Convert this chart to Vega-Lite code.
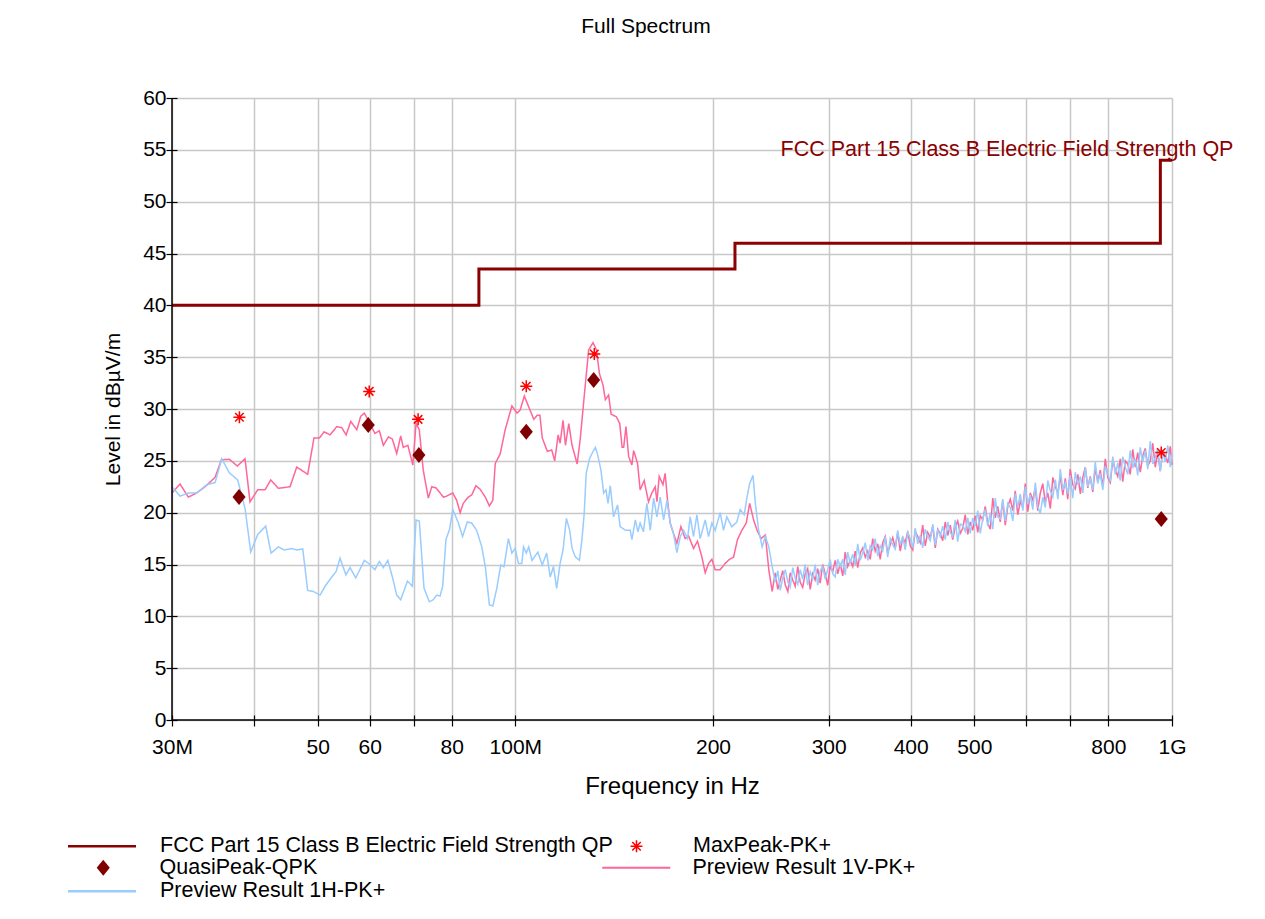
{
"$schema": "https://vega.github.io/schema/vega-lite/v6.json",
"width": 1000,
"height": 622,
"autosize": {"type": "none"},
"padding": {"left": 172, "top": 98, "right": 93, "bottom": 199},
"background": "white",
"title": {"text": "Full Spectrum", "fontSize": 21, "fontWeight": "normal", "anchor": "middle", "offset": 33, "dx": -26, "baseline": "alphabetic", "color": "black", "font": "Liberation Sans"},
"config": {
  "font": "Liberation Sans",
  "view": {"stroke": null},
  "axis": {"labelFontSize": 21, "labelFont": "Liberation Sans", "labelColor": "black", "tickColor": "black", "tickWidth": 1.2, "gridColor": "#c8c8c8", "gridWidth": 1.5, "titleColor": "black", "titleFontWeight": "normal", "titleFont": "Liberation Sans", "domain": false, "labelOverlap": false, "labelFlush": false},
  "legend": {"labelFontSize": 21.5, "labelFont": "Liberation Sans", "labelColor": "black", "padding": 0, "symbolSize": 289, "labelLimit": 1000}
},
"datasets": {
  "lim": [{"f":30,"v":40},{"f":88,"v":43.5},{"f":216,"v":46},{"f":960,"v":54},{"f":1000,"v":54}],
  "qp": [{"f":37.95,"v":21.5},{"f":59.7,"v":28.45},{"f":71.3,"v":25.56},{"f":103.9,"v":27.8},{"f":131.6,"v":32.8},{"f":963,"v":19.4}],
  "pk": [{"f":38.0,"v":29.2},{"f":59.9,"v":31.7},{"f":71.1,"v":29.0},{"f":103.9,"v":32.2},{"f":131.9,"v":35.3},{"f":963,"v":25.8}],
  "lbl": [{"f":253.5,"v":55,"t":"FCC Part 15 Class B Electric Field Strength QP"}],
  "v": [
{"f":30.0,"v":21.9},{"f":30.86,"v":22.76},{"f":31.77,"v":21.5},{"f":32.71,"v":21.9},{"f":33.68,"v":22.5},{"f":34.89,"v":23.4},{"f":35.67,"v":25.1},{"f":36.68,"v":25.15},{"f":37.72,"v":24.5},{"f":38.76,"v":25.2},{"f":39.44,"v":21.05},{"f":40.52,"v":22.2},{"f":41.57,"v":22.2},{"f":42.41,"v":23.15},{"f":43.56,"v":22.35},{"f":45.38,"v":22.5},{"f":46.46,"v":24.4},{"f":48.28,"v":23.7},{"f":49.35,"v":27.2},{"f":50.3,"v":27.2},{"f":51.15,"v":27.8},{"f":52.22,"v":27.5},{"f":53.46,"v":28.3},{"f":54.4,"v":28.2},{"f":55.25,"v":27.5},{"f":56.15,"v":28.8},{"f":57.35,"v":28.0},{"f":58.15,"v":29.3},{"f":58.9,"v":29.6},{"f":59.7,"v":28.9},{"f":61.1,"v":27.65},{"f":62.08,"v":27.9},{"f":62.95,"v":26.5},{"f":64.07,"v":27.3},{"f":64.97,"v":27.1},{"f":65.97,"v":25.7},{"f":66.9,"v":27.4},{"f":67.5,"v":26.3},{"f":68.6,"v":26.5},{"f":69.8,"v":24.6},{"f":70.6,"v":28.6},{"f":71.4,"v":28.0},{"f":72.4,"v":24.1},{"f":73.7,"v":21.4},{"f":74.6,"v":22.5},{"f":75.7,"v":22.4},{"f":77.7,"v":21.5},{"f":78.6,"v":21.6},{"f":80.3,"v":21.9},{"f":81.4,"v":21.2},{"f":82.4,"v":20.0},{"f":83.3,"v":20.9},{"f":84.8,"v":21.5},{"f":85.8,"v":21.7},{"f":87.1,"v":22.6},{"f":88.4,"v":22.25},{"f":90.0,"v":21.5},{"f":91.3,"v":20.65},{"f":92.4,"v":21.2},{"f":93.2,"v":24.75},{"f":94.8,"v":25.65},{"f":96.5,"v":28.0},{"f":98.8,"v":30.3},{"f":100.6,"v":29.6},{"f":101.7,"v":29.9},{"f":103.2,"v":31.25},{"f":104.8,"v":30.2},{"f":106.7,"v":29.0},{"f":108.0,"v":29.4},{"f":109.0,"v":29.4},{"f":109.9,"v":27.2},{"f":111.9,"v":25.9},{"f":113.6,"v":26.05},{"f":114.8,"v":25.0},{"f":116.2,"v":27.5},{"f":117.0,"v":26.7},{"f":118.2,"v":28.9},{"f":119.2,"v":26.5},{"f":120.6,"v":28.6},{"f":122.0,"v":26.5},{"f":124.2,"v":24.7},{"f":125.5,"v":27.0},{"f":127.3,"v":31.2},{"f":129.3,"v":35.7},{"f":131.3,"v":36.4},{"f":132.9,"v":35.7},{"f":134.3,"v":33.4},{"f":136.0,"v":32.3},{"f":137.1,"v":30.9},{"f":138.7,"v":31.35},{"f":139.9,"v":29.5},{"f":142.5,"v":29.25},{"f":144.2,"v":28.6},{"f":145.4,"v":26.3},{"f":146.2,"v":26.3},{"f":147.4,"v":28.3},{"f":148.8,"v":25.4},{"f":150.5,"v":24.6},{"f":151.4,"v":26.0},{"f":153.5,"v":24.75},{"f":154.9,"v":22.2},{"f":157.1,"v":23.1},{"f":159.5,"v":21.05},{"f":161.4,"v":21.9},{"f":163.3,"v":22.5},{"f":164.3,"v":21.05},{"f":165.6,"v":23.5},{"f":167.8,"v":22.7},{"f":169.1,"v":23.8},{"f":170.5,"v":21.2},{"f":172.1,"v":19.0},{"f":174.1,"v":18.0},{"f":176.2,"v":17.05},{"f":178.7,"v":18.65},{"f":181.4,"v":17.5},{"f":183.6,"v":17.75},{"f":186.8,"v":16.55},{"f":189.4,"v":17.25},{"f":192.3,"v":15.75},{"f":194.6,"v":14.2},{"f":196.9,"v":15.1},{"f":199.2,"v":15.5},{"f":201.5,"v":14.5},{"f":205.1,"v":14.5},{"f":208.7,"v":15.1},{"f":211.9,"v":15.5},{"f":214.9,"v":15.7},{"f":217.9,"v":17.4},{"f":221.3,"v":18.3},{"f":224.7,"v":19.0},{"f":227.4,"v":20.9},{"f":230.6,"v":19.3},{"f":233.4,"v":18.3},{"f":236.7,"v":17.5},{"f":240.3,"v":17.85},{"f":243.2,"v":14.5},{"f":246.1,"v":12.4},
{"f":248.8,"v":14.2},{"f":251.0,"v":12.6},{"f":253.2,"v":13.5},{"f":255.4,"v":14.4},{"f":257.7,"v":13.0},{"f":260.0,"v":12.4},{"f":262.2,"v":14.2},{"f":264.5,"v":13.5},{"f":266.8,"v":12.9},{"f":269.2,"v":14.8},{"f":271.5,"v":13.3},{"f":273.9,"v":12.8},{"f":276.3,"v":14.1},{"f":278.7,"v":14.6},{"f":281.2,"v":12.6},{"f":283.7,"v":14.1},{"f":286.2,"v":13.5},{"f":288.7,"v":14.6},{"f":291.2,"v":13.2},{"f":293.8,"v":15.0},{"f":296.4,"v":14.1},{"f":299.0,"v":13.0},{"f":301.6,"v":14.9},{"f":304.3,"v":14.3},{"f":307.0,"v":15.4},{"f":309.7,"v":14.1},{"f":312.4,"v":15.1},{"f":315.2,"v":13.9},{"f":317.9,"v":16.2},{"f":320.7,"v":14.8},{"f":323.6,"v":15.4},{"f":326.4,"v":14.8},{"f":329.3,"v":16.3},{"f":332.2,"v":14.7},{"f":335.1,"v":16.1},{"f":338.1,"v":16.6},{"f":341.1,"v":15.7},{"f":344.1,"v":16.3},{"f":347.1,"v":15.5},{"f":350.1,"v":17.5},
{"f":353.2,"v":16.3},{"f":356.3,"v":17.0},{"f":359.4,"v":15.5},{"f":362.6,"v":17.1},{"f":365.8,"v":17.7},{"f":369.0,"v":16.1},{"f":372.3,"v":16.9},{"f":375.6,"v":17.6},{"f":378.9,"v":16.6},{"f":382.2,"v":18.1},{"f":385.6,"v":16.3},{"f":389.0,"v":17.6},{"f":392.4,"v":17.1},{"f":395.9,"v":18.2},{"f":399.4,"v":16.8},{"f":402.9,"v":16.4},{"f":406.4,"v":18.2},{"f":410.0,"v":17.7},{"f":413.6,"v":17.1},{"f":417.2,"v":18.8},{"f":420.9,"v":16.8},{"f":424.6,"v":18.1},{"f":428.4,"v":17.6},{"f":432.2,"v":18.7},{"f":436.0,"v":16.6},{"f":439.8,"v":18.4},{"f":443.6,"v":18.0},{"f":447.5,"v":17.3},{"f":451.5,"v":19.1},{"f":455.5,"v":17.8},{"f":459.5,"v":18.8},{"f":463.5,"v":17.4},{"f":467.6,"v":18.6},{"f":471.7,"v":19.2},{"f":475.9,"v":18.0},{"f":480.1,"v":18.5},{"f":484.3,"v":19.8},{"f":488.6,"v":17.9},{"f":492.9,"v":19.1},{"f":497.2,"v":18.3},
{"f":501.6,"v":19.7},{"f":506.0,"v":18.1},{"f":510.5,"v":19.7},{"f":515.0,"v":19.3},{"f":519.5,"v":20.6},{"f":524.1,"v":19.0},{"f":528.8,"v":18.4},{"f":533.4,"v":21.4},{"f":538.1,"v":19.5},{"f":542.8,"v":20.6},{"f":547.6,"v":19.1},{"f":552.4,"v":21.2},{"f":557.3,"v":18.8},{"f":562.2,"v":20.6},{"f":567.2,"v":21.3},{"f":572.2,"v":20.2},{"f":577.2,"v":22.1},{"f":582.3,"v":19.8},{"f":587.5,"v":21.1},{"f":592.7,"v":20.5},{"f":597.8,"v":22.8},{"f":603.1,"v":20.1},{"f":608.4,"v":21.9},{"f":613.8,"v":21.2},{"f":619.2,"v":22.4},{"f":624.6,"v":20.2},{"f":630.1,"v":21.9},{"f":635.7,"v":22.8},{"f":641.3,"v":21.0},{"f":646.9,"v":21.9},{"f":652.7,"v":20.4},{"f":658.4,"v":23.4},{"f":664.2,"v":22.5},{"f":670.1,"v":21.9},{"f":676.0,"v":23.5},{"f":681.9,"v":21.7},{"f":687.9,"v":23.3},{"f":693.8,"v":21.3},{"f":699.8,"v":24.2},{"f":706.0,"v":22.7},
{"f":712.4,"v":22.3},{"f":718.7,"v":23.7},{"f":725.1,"v":21.8},{"f":731.5,"v":23.4},{"f":737.8,"v":24.4},{"f":744.3,"v":22.4},{"f":750.8,"v":23.5},{"f":757.4,"v":22.0},{"f":764.1,"v":24.3},{"f":770.8,"v":23.0},{"f":777.6,"v":24.1},{"f":784.5,"v":22.5},{"f":791.4,"v":25.2},{"f":798.4,"v":23.4},{"f":805.4,"v":22.9},{"f":812.5,"v":25.1},{"f":819.6,"v":24.1},{"f":826.8,"v":23.5},{"f":834.1,"v":25.2},{"f":841.4,"v":23.0},{"f":848.9,"v":25.0},{"f":856.3,"v":24.7},{"f":863.8,"v":23.7},{"f":871.4,"v":26.1},{"f":879.1,"v":24.4},{"f":886.8,"v":25.8},{"f":894.7,"v":23.9},{"f":902.6,"v":25.5},{"f":910.5,"v":26.2},{"f":918.5,"v":24.5},{"f":926.7,"v":25.0},{"f":934.8,"v":26.7},{"f":943.0,"v":24.4},{"f":951.3,"v":25.8},{"f":959.6,"v":24.0},{"f":968.1,"v":25.9},{"f":976.6,"v":25.5},{"f":985.2,"v":24.8},{"f":994.0,"v":26.4},{"f":1000,"v":24.6}
  ],
  "h": [
{"f":30.0,"v":22.5},{"f":30.86,"v":21.6},{"f":31.77,"v":21.9},{"f":32.71,"v":21.9},{"f":33.88,"v":22.7},{"f":34.89,"v":22.9},{"f":35.72,"v":25.2},{"f":36.68,"v":23.85},{"f":37.77,"v":23.15},{"f":38.76,"v":20.4},{"f":39.54,"v":16.2},{"f":40.52,"v":17.9},{"f":41.67,"v":18.7},{"f":42.46,"v":16.1},{"f":43.56,"v":16.7},{"f":44.44,"v":16.4},{"f":45.65,"v":16.55},{"f":46.46,"v":16.4},{"f":47.45,"v":16.5},{"f":48.28,"v":12.5},{"f":49.24,"v":12.4},{"f":50.42,"v":12.05},{"f":51.32,"v":12.9},{"f":52.53,"v":13.8},{"f":53.33,"v":14.3},{"f":54.08,"v":15.6},{"f":55.2,"v":14.0},{"f":56.01,"v":14.7},{"f":57.14,"v":13.7},{"f":58.9,"v":15.4},{"f":59.94,"v":15.05},{"f":61.1,"v":14.5},{"f":62.08,"v":15.3},{"f":62.95,"v":14.7},{"f":63.94,"v":15.4},{"f":64.97,"v":13.8},{"f":65.97,"v":12.05},{"f":66.9,"v":11.6},{"f":68.5,"v":13.4},{"f":69.7,"v":12.9},{"f":70.6,"v":19.3},{"f":71.4,"v":19.2},{"f":72.6,"v":12.7},{"f":73.96,"v":11.4},{"f":75.0,"v":11.6},{"f":75.9,"v":12.05},{"f":76.8,"v":11.95},{"f":77.5,"v":12.9},{"f":78.4,"v":17.4},{"f":79.4,"v":18.4},{"f":80.3,"v":20.3},{"f":81.9,"v":19.0},{"f":83.1,"v":17.7},{"f":84.5,"v":19.1},{"f":85.8,"v":19.0},{"f":87.3,"v":18.3},{"f":88.9,"v":16.7},{"f":90.0,"v":14.8},{"f":91.3,"v":11.1},{"f":92.4,"v":11.0},{"f":93.7,"v":12.7},{"f":95.0,"v":14.95},{"f":96.1,"v":14.8},{"f":97.6,"v":17.5},{"f":98.8,"v":16.1},{"f":99.9,"v":16.55},{"f":101.1,"v":15.1},{"f":102.3,"v":15.1},{"f":102.9,"v":16.7},{"f":103.9,"v":16.1},{"f":104.8,"v":16.7},{"f":106.0,"v":15.4},{"f":108.2,"v":16.2},{"f":109.9,"v":14.95},{"f":111.6,"v":16.1},{"f":113.0,"v":13.8},{"f":114.3,"v":14.8},{"f":115.6,"v":12.7},{"f":117.0,"v":15.1},{"f":118.2,"v":16.4},{"f":119.6,"v":19.45},{"f":121.0,"v":18.3},{"f":122.0,"v":16.55},{"f":123.4,"v":15.75},{"f":125.2,"v":15.4},{"f":126.3,"v":17.4},{"f":127.3,"v":19.9},{"f":128.2,"v":23.8},{"f":129.7,"v":25.2},{"f":131.3,"v":25.9},{"f":132.4,"v":26.3},{"f":133.5,"v":25.55},{"f":135.0,"v":24.1},{"f":136.3,"v":21.9},{"f":137.4,"v":22.2},{"f":138.4,"v":20.9},{"f":139.5,"v":22.6},{"f":141.1,"v":19.6},{"f":143.1,"v":20.75},{"f":144.4,"v":18.65},{"f":147.1,"v":18.3},{"f":149.6,"v":18.3},{"f":150.5,"v":17.4},{"f":152.3,"v":19.3},{"f":153.7,"v":18.15},{"f":154.9,"v":19.0},{"f":156.7,"v":18.15},{"f":158.6,"v":20.9},{"f":160.5,"v":18.3},{"f":162.4,"v":21.4},{"f":164.3,"v":19.6},{"f":166.2,"v":21.5},{"f":168.2,"v":19.3},{"f":170.2,"v":21.2},{"f":172.1,"v":19.0},{"f":174.1,"v":18.0},{"f":176.2,"v":16.15},{"f":178.3,"v":17.7},{"f":180.4,"v":18.3},{"f":182.9,"v":17.5},{"f":184.6,"v":19.6},{"f":186.8,"v":17.7},{"f":189.0,"v":19.8},{"f":191.2,"v":17.5},{"f":194.6,"v":19.3},{"f":196.9,"v":17.7},{"f":199.2,"v":19.0},{"f":201.5,"v":18.3},{"f":205.1,"v":20.0},{"f":207.5,"v":18.3},{"f":209.9,"v":19.6},{"f":213.6,"v":18.65},{"f":217.4,"v":19.1},{"f":220.0,"v":20.3},{"f":223.1,"v":19.8},{"f":225.2,"v":21.4},{"f":227.4,"v":22.8},{"f":230.1,"v":23.6},{"f":232.0,"v":20.9},{"f":234.7,"v":18.3},{"f":237.6,"v":16.7},{"f":240.3,"v":17.7},{"f":243.2,"v":16.7},{"f":246.1,"v":14.8},
{"f":248.8,"v":13.3},{"f":251.0,"v":14.4},{"f":253.2,"v":12.5},{"f":255.4,"v":13.7},{"f":257.7,"v":14.5},{"f":260.0,"v":13.3},{"f":262.2,"v":12.8},{"f":264.5,"v":14.7},{"f":266.8,"v":13.7},{"f":269.2,"v":13.1},{"f":271.5,"v":14.5},{"f":273.9,"v":13.6},{"f":276.3,"v":15.0},{"f":278.7,"v":13.0},{"f":281.2,"v":14.3},{"f":283.7,"v":13.6},{"f":286.2,"v":15.0},{"f":288.7,"v":13.0},{"f":291.2,"v":14.4},{"f":293.8,"v":14.8},{"f":296.4,"v":13.6},{"f":299.0,"v":14.5},{"f":301.6,"v":15.5},{"f":304.3,"v":14.1},{"f":307.0,"v":13.8},{"f":309.7,"v":15.5},{"f":312.4,"v":14.8},{"f":315.2,"v":15.5},{"f":317.9,"v":14.0},{"f":320.7,"v":16.2},{"f":323.6,"v":15.1},{"f":326.4,"v":16.0},{"f":329.3,"v":14.9},{"f":332.2,"v":17.0},{"f":335.1,"v":15.4},{"f":338.1,"v":16.1},{"f":341.1,"v":17.1},{"f":344.1,"v":15.4},{"f":347.1,"v":16.8},{"f":350.1,"v":16.4},
{"f":353.2,"v":17.5},{"f":356.3,"v":15.8},{"f":359.4,"v":16.8},{"f":362.6,"v":16.3},{"f":365.8,"v":17.7},{"f":369.0,"v":15.7},{"f":372.3,"v":17.5},{"f":375.6,"v":16.9},{"f":378.9,"v":16.5},{"f":382.2,"v":18.3},{"f":385.6,"v":16.9},{"f":389.0,"v":17.7},{"f":392.4,"v":16.4},{"f":395.9,"v":18.1},{"f":399.4,"v":17.5},{"f":402.9,"v":16.6},{"f":406.4,"v":18.5},{"f":410.0,"v":17.0},{"f":413.6,"v":17.8},{"f":417.2,"v":16.6},{"f":420.9,"v":18.4},{"f":424.6,"v":17.7},{"f":428.4,"v":17.3},{"f":432.2,"v":18.9},{"f":436.0,"v":16.9},{"f":439.8,"v":18.4},{"f":443.6,"v":17.7},{"f":447.5,"v":18.7},{"f":451.5,"v":17.4},{"f":455.5,"v":19.1},{"f":459.5,"v":18.1},{"f":463.5,"v":17.7},{"f":467.6,"v":19.3},{"f":471.7,"v":17.2},{"f":475.9,"v":18.9},{"f":480.1,"v":18.8},{"f":484.3,"v":18.2},{"f":488.6,"v":19.5},{"f":492.9,"v":18.0},{"f":497.2,"v":19.5},
{"f":501.6,"v":18.7},{"f":506.0,"v":20.2},{"f":510.5,"v":18.0},{"f":515.0,"v":19.4},{"f":519.5,"v":20.3},{"f":524.1,"v":18.7},{"f":528.8,"v":20.0},{"f":533.4,"v":18.4},{"f":538.1,"v":21.4},{"f":542.8,"v":19.6},{"f":547.6,"v":19.4},{"f":552.4,"v":21.3},{"f":557.3,"v":19.2},{"f":562.2,"v":20.9},{"f":567.2,"v":20.5},{"f":572.2,"v":19.2},{"f":577.2,"v":21.8},{"f":582.3,"v":20.5},{"f":587.5,"v":21.8},{"f":592.7,"v":20.2},{"f":597.8,"v":22.5},{"f":603.1,"v":20.8},{"f":608.4,"v":21.7},{"f":613.8,"v":20.3},{"f":619.2,"v":22.9},{"f":624.6,"v":20.6},{"f":630.1,"v":19.9},{"f":635.7,"v":21.5},{"f":641.3,"v":20.5},{"f":646.9,"v":23.1},{"f":652.7,"v":22.1},{"f":658.4,"v":21.5},{"f":664.2,"v":23.2},{"f":670.1,"v":21.3},{"f":676.0,"v":24.2},{"f":681.9,"v":22.2},{"f":687.9,"v":22.9},{"f":693.8,"v":21.8},{"f":699.8,"v":23.6},{"f":706.0,"v":21.4},
{"f":712.4,"v":23.9},{"f":718.7,"v":22.7},{"f":725.1,"v":23.5},{"f":731.5,"v":21.9},{"f":737.8,"v":24.4},{"f":744.3,"v":22.5},{"f":750.8,"v":23.3},{"f":757.4,"v":22.2},{"f":764.1,"v":24.9},{"f":770.8,"v":22.8},{"f":777.6,"v":23.8},{"f":784.5,"v":22.2},{"f":791.4,"v":24.5},{"f":798.4,"v":23.7},{"f":805.4,"v":23.0},{"f":812.5,"v":25.4},{"f":819.6,"v":23.7},{"f":826.8,"v":24.8},{"f":834.1,"v":23.1},{"f":841.4,"v":25.4},{"f":848.9,"v":24.4},{"f":856.3,"v":23.7},{"f":863.8,"v":26.0},{"f":871.4,"v":24.3},{"f":879.1,"v":25.2},{"f":886.8,"v":23.6},{"f":894.7,"v":26.3},{"f":902.6,"v":24.9},{"f":910.5,"v":26.0},{"f":918.5,"v":24.2},{"f":926.7,"v":26.9},{"f":934.8,"v":24.7},{"f":943.0,"v":25.3},{"f":951.3,"v":26.2},{"f":959.6,"v":24.0},{"f":968.1,"v":25.8},{"f":976.6,"v":24.9},{"f":985.2,"v":26.5},{"f":994.0,"v":24.4},{"f":1000,"v":25.6}
  ]
},
"layer": [
  {
    "data": {"name": "v"},
    "mark": {"type": "line", "strokeWidth": 1.5, "color": "#ff6699"},
    "encoding": {
      "x": {"field": "f", "type": "quantitative", "scale": {"type": "log", "domain": [30, 1000], "nice": false},
            "axis": {"title": "Frequency in Hz", "titleFontSize": 24, "titlePadding": 17, "values": [30,40,50,60,70,80,100,200,300,400,500,600,700,800,1000], "format": "d",
                     "labelExpr": "datum.value == 30 ? '30M' : datum.value == 100 ? '100M' : datum.value == 1000 ? '1G' : (datum.value == 40 || datum.value == 70 || datum.value == 600 || datum.value == 700) ? '' : datum.label",
                     "offset": -5, "tickSize": 11, "labelPadding": 10, "grid": true}},
      "y": {"field": "v", "type": "quantitative", "scale": {"domain": [0, 60], "nice": false},
            "axis": {"title": "Level in dBµV/m", "titleFontSize": 21, "titlePadding": 19, "values": [0,2.5,5,7.5,10,12.5,15,17.5,20,22.5,25,27.5,30,32.5,35,37.5,40,42.5,45,47.5,50,52.5,55,57.5,60], "format": "d",
                     "labelExpr": "datum.value % 5 === 0 ? datum.label : ''", "offset": -5, "tickSize": 11, "labelPadding": 0, "grid": true}},
      "strokeDash": {"datum": "Preview Result 1V-PK+", "scale": {"domain": ["Preview Result 1V-PK+"], "range": [[1, 0]]},
                 "legend": {"title": null, "orient": "none", "legendX": 453.5, "legendY": 759, "symbolType": "M-4,0H4", "symbolStrokeColor": "#ff6699", "symbolStrokeWidth": 2, "labelOffset": 45.5}}
    }
  },
  {
    "data": {"name": "h"},
    "mark": {"type": "line", "strokeWidth": 1.5},
    "encoding": {
      "x": {"field": "f", "type": "quantitative"},
      "y": {"field": "v", "type": "quantitative"},
      "color": {"datum": "Preview Result 1H-PK+"}
    }
  },
  {
    "data": {"name": "lim"},
    "mark": {"type": "line", "strokeWidth": 3, "interpolate": "step-after"},
    "encoding": {
      "x": {"field": "f", "type": "quantitative"},
      "y": {"field": "v", "type": "quantitative"},
      "color": {"datum": "FCC Part 15 Class B Electric Field Strength QP",
                "scale": {"domain": ["FCC Part 15 Class B Electric Field Strength QP", "Preview Result 1H-PK+"], "range": ["#8b0000", "#99ccff"]},
                "legend": {"title": null, "orient": "none", "legendX": -80.75, "legendY": 737.5, "symbolType": "M-4,0H4", "symbolStrokeWidth": 2.5, "rowPadding": 22, "labelOffset": 47.25}}
    }
  },
  {
    "data": {"name": "lbl"},
    "mark": {"type": "text", "align": "left", "baseline": "middle", "fontSize": 21.5, "color": "#8b0000", "font": "Liberation Sans"},
    "encoding": {
      "x": {"field": "f", "type": "quantitative"},
      "y": {"field": "v", "type": "quantitative"},
      "text": {"field": "t"}
    }
  },
  {
    "data": {"values": [{}]},
    "mark": {"type": "rule", "color": "black", "strokeWidth": 1.5},
    "encoding": {"x": {"datum": 30, "type": "quantitative"}}
  },
  {
    "data": {"values": [{}]},
    "mark": {"type": "rule", "color": "black", "strokeWidth": 1.5},
    "encoding": {"y": {"datum": 0, "type": "quantitative"}}
  },
  {
    "data": {"name": "qp"},
    "mark": {"type": "point", "shape": "M0,-1L0.82,0L0,1L-0.82,0Z", "filled": true, "size": 256, "opacity": 1},
    "encoding": {
      "x": {"field": "f", "type": "quantitative"},
      "y": {"field": "v", "type": "quantitative"},
      "fill": {"datum": "QuasiPeak-QPK", "scale": {"domain": ["QuasiPeak-QPK"], "range": ["#800000"]},
               "legend": {"title": null, "orient": "none", "legendX": -79.5, "legendY": 759, "symbolType": "M0,-0.94L0.77,0L0,0.94L-0.77,0Z", "symbolStrokeWidth": 0, "symbolStrokeColor": "#800000", "labelOffset": 45.5}}
    }
  },
  {
    "data": {"name": "pk"},
    "mark": {"type": "point", "shape": "M-1,0H1M0,-1V1M-0.71,-0.71L0.71,0.71M-0.71,0.71L0.71,-0.71", "filled": false, "size": 144, "strokeWidth": 1.5, "opacity": 1},
    "encoding": {
      "x": {"field": "f", "type": "quantitative"},
      "y": {"field": "v", "type": "quantitative"},
      "stroke": {"datum": "MaxPeak-PK+", "scale": {"domain": ["MaxPeak-PK+"], "range": ["#ff0000"]},
                 "legend": {"title": null, "orient": "none", "legendX": 453.75, "legendY": 737.5, "symbolType": "M-0.7,0H0.7M0,-0.7V0.7M-0.5,-0.5L0.5,0.5M-0.5,0.5L0.5,-0.5", "symbolStrokeWidth": 1.5, "labelOffset": 45.75}}
    }
  }
]
}
